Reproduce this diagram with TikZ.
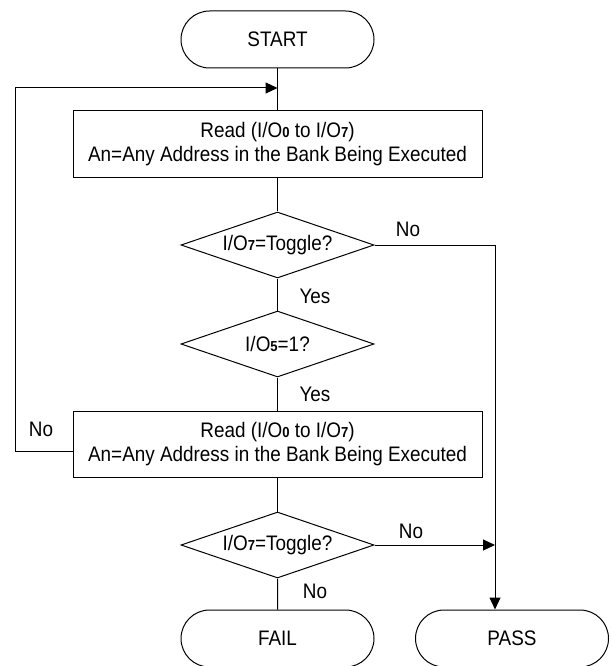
\documentclass[tikz,border=0pt]{standalone}
\usepackage{fontspec}
\setmainfont[FakeStretch=0.9]{Liberation Sans}
\usetikzlibrary{shapes.geometric,shapes.misc,arrows.meta}
\newcommand{\sbd}[1]{{\bfseries\fontsize{14.5}{14.5}\selectfont #1}}
\tikzset{
  base/.style={draw, line width=1pt, font=\fontsize{21}{24}\selectfont, inner sep=0pt},
  term/.style={base, rounded rectangle, minimum width=193pt, minimum height=57pt},
  proc/.style={base, rectangle, minimum width=409pt, minimum height=66pt, align=center},
  dec/.style={base, diamond, minimum width=193pt, minimum height=66pt, shape aspect=2.9},
  conn/.style={line width=1pt},
  arr/.style={conn, -{Triangle[length=12pt,width=11pt]}},
  lbl/.style={font=\fontsize{21}{24}\selectfont, inner sep=0pt}
}
\begin{document}
\begin{tikzpicture}[x=1pt,y=-1pt]
\useasboundingbox (0,0) rectangle (612,666);
\node[term] (start) at (277.5,39.5) {START};
\node[proc] (box1) at (277.5,144) {Read (I/O\sbd{0} to I/O\sbd{7})\\An=Any Address in the Bank Being Executed};
\node[dec] (d1) at (277.5,245) {I/O\sbd{7}=Toggle?};
\node[dec] (d2) at (277.5,344) {I/O\sbd{5}=1?};
\node[proc] (box2) at (277.5,444) {Read (I/O\sbd{0} to I/O\sbd{7})\\An=Any Address in the Bank Being Executed};
\node[dec] (d3) at (277.5,545) {I/O\sbd{7}=Toggle?};
\node[term] (fail) at (277.5,638.5) {FAIL};
\node[term] (pass) at (512,638.5) {PASS};
% labels
\node[lbl] (lno1) at (408,229) {No};
\node[lbl] (lyes1) at (315,296) {Yes};
\node[lbl] (lyes2) at (315,394) {Yes};
\node[lbl] (lno2) at (41,429) {No};
\node[lbl] (lno3) at (411,531) {No};
\node[lbl] (lno4) at (315,591) {No};
% coordinates
\coordinate (loopin) at (277.5,88);
\coordinate (loopout) at (73,451);
\coordinate (loopc1) at (15,451);
\coordinate (loopc2) at (15,88);
\coordinate (rc) at (495,245);
\coordinate (rj) at (495,545);
% connectors
\draw[conn] (start) -- (box1);
\draw[arr] (loopout) -- (loopc1) -- (loopc2) -- (loopin);
\draw[conn] (box1) -- (d1);
\draw[conn] (d1) -- (d2);
\draw[conn] (d2) -- (box2);
\draw[conn] (box2) -- (d3);
\draw[conn] (d3) -- (fail);
\draw[arr] (d1.east) -- (rc) -- (rc |- pass.north);
\draw[arr] (d3.east) -- (rj);
\end{tikzpicture}
\end{document}
